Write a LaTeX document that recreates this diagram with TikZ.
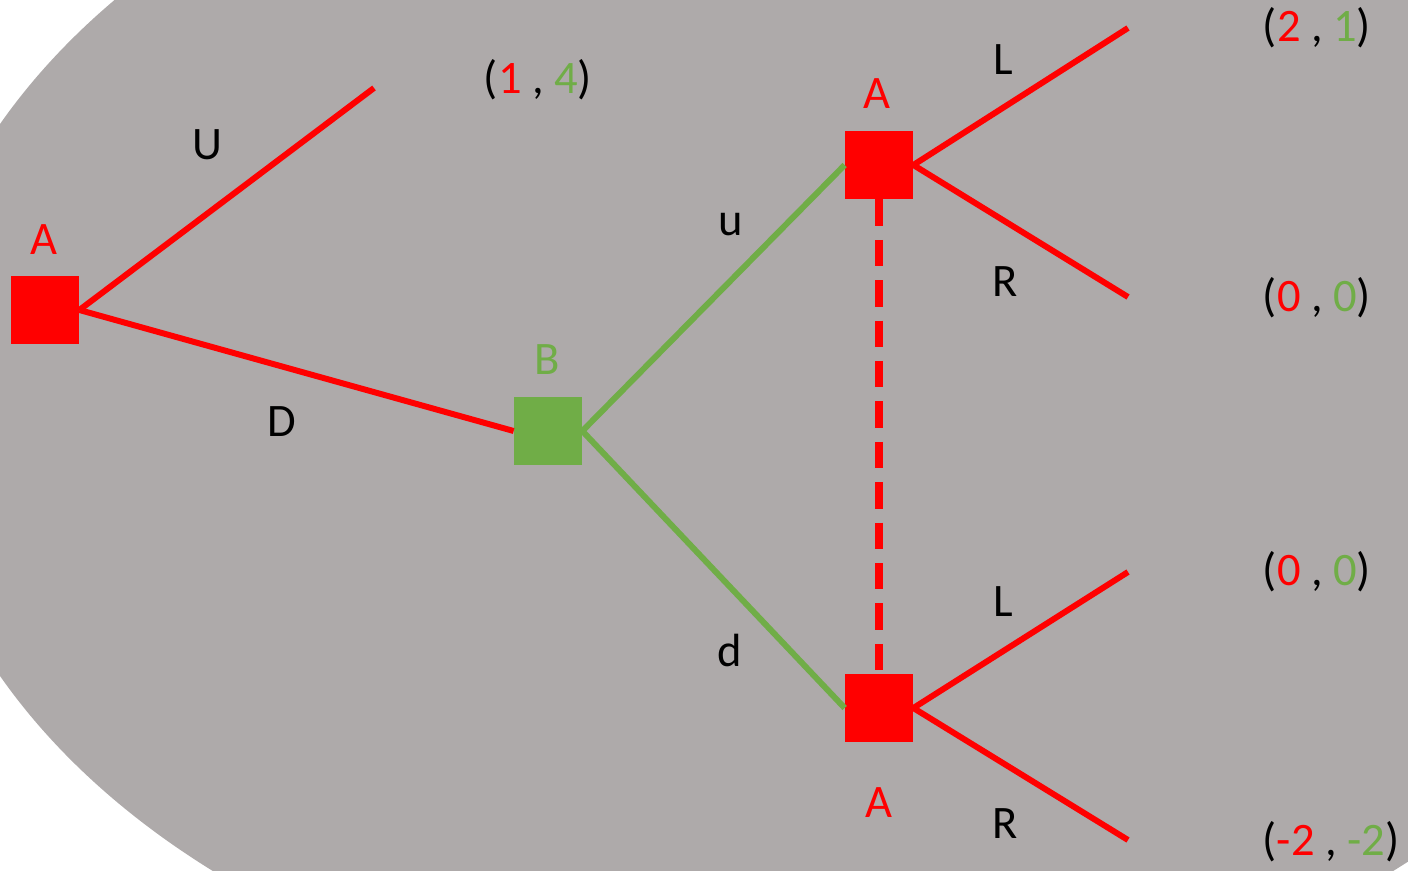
\documentclass[tikz,border=0pt]{standalone}
\usepackage{fontspec}
\setmainfont{Carlito}
\definecolor{pgreen}{HTML}{70AD47}
\definecolor{pgrey}{HTML}{AEAAAA}
\definecolor{pred}{HTML}{FF0000}
\begin{document}
\begin{tikzpicture}[x=0.02cm,y=-0.02cm,
  redbox/.style={fill=pred,draw=none,minimum size=1.36cm,inner sep=0pt},
  greenbox/.style={fill=pgreen,draw=none,minimum size=1.36cm,inner sep=0pt},
  redline/.style={draw=pred,line width=3.4pt},
  greenline/.style={draw=pgreen,line width=3.4pt},
  lbl/.style={font=\fontsize{26.5}{30}\selectfont,inner sep=0pt},
  dashline/.style={draw=pred,line width=4.6pt,dash pattern=on 15pt off 8pt}]
\useasboundingbox (0,0) rectangle (1408,871);
\begin{scope}
\clip (0,0) rectangle (1408,871);
\fill[pgrey] (803,400) ellipse [x radius=894, y radius=627];
\end{scope}
% nodes
\node[redbox] (A1) at (45,310) {};
\node[greenbox] (B) at (548,431) {};
\node[redbox] (A2) at (879,165) {};
\node[redbox] (A3) at (879,708) {};
% free ends
\coordinate (eU) at (374,88);
\coordinate (eL1) at (1128,28);
\coordinate (eR1) at (1128,297);
\coordinate (eL2) at (1128,572);
\coordinate (eR2) at (1128,840);
% dashed information set
\draw[dashline] (A2.south) -- (A3.north);
% edges
\draw[redline] (A1.east) -- (eU);
\draw[redline] (A1.east) -- (B.west);
\draw[greenline] (B.east) -- (A2.west);
\draw[greenline] (B.east) -- (A3.west);
\draw[redline] (A2.east) -- (eL1);
\draw[redline] (A2.east) -- (eR1);
\draw[redline] (A3.east) -- (eL2);
\draw[redline] (A3.east) -- (eR2);
% player labels
\node[lbl,text=pred] (lA1) at (44,240) {A};
\node[lbl,text=pgreen] (lB) at (547,360) {B};
\node[lbl,text=pred] (lA2) at (877,94) {A};
\node[lbl,text=pred] (lA3) at (879,803) {A};
% action labels
\node[lbl] (lU) at (207,145) {U};
\node[lbl] (lD) at (282,422) {D};
\node[lbl] (lu) at (731,225) {u};
\node[lbl] (ld) at (730,650) {d};
\node[lbl] (lL1) at (1003,60) {L};
\node[lbl] (lR1) at (1005,282) {R};
\node[lbl] (lL2) at (1003,602) {L};
\node[lbl] (lR2) at (1005,824) {R};
% payoffs
\node[lbl] (p1) at (538,80) {(\textcolor{pred}{1} , \textcolor{pgreen}{4})};
\node[lbl] (p2) at (1317,28) {(\textcolor{pred}{2} , \textcolor{pgreen}{1})};
\node[lbl] (p3) at (1317,298) {(\textcolor{pred}{0} , \textcolor{pgreen}{0})};
\node[lbl] (p4) at (1317,572) {(\textcolor{pred}{0} , \textcolor{pgreen}{0})};
\node[lbl] (p5) at (1331,842) {(\textcolor{pred}{-2} , \textcolor{pgreen}{-2})};
\end{tikzpicture}
\end{document}
